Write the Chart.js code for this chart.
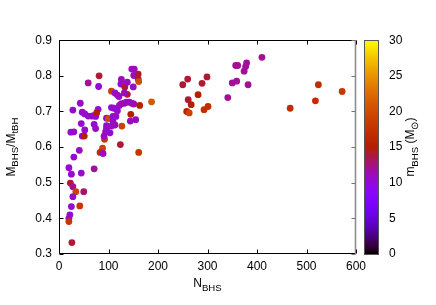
<!DOCTYPE html>
<html>
<head>
<meta charset="utf-8">
<script src="https://cdn.jsdelivr.net/npm/chart.js@4.4.0/dist/chart.umd.min.js"></script>
<style>
  html, body { margin: 0; padding: 0; background: #fff; }
</style>
</head>
<body>
<canvas id="myChart" width="436" height="305"></canvas>
<script>
/* global Chart */

// N_BHS for each run
const nBHS = [
  20, 25, 45, 71, 23, 28, 34, 50, 28, 25,
  42, 22, 20, 20, 26, 41, 30, 28, 24, 30,
  43, 45, 47, 52, 59, 66, 70, 74, 52, 47,
  51, 59, 81, 80, 79, 76, 71, 74, 88, 83,
  89, 92, 91, 94, 96, 96, 96, 100, 103, 106,
  109, 109, 106, 111, 115, 118, 122, 126, 132, 136,
  142, 147, 151, 163, 145, 144, 155, 187, 106, 113,
  118, 121, 125, 126, 133, 138, 138, 132, 150, 147,
  152, 151, 160, 160, 161, 127, 124, 161, 113, 410,
  357, 361, 379, 377, 374, 350, 359, 382, 341, 260,
  299, 250, 289, 281, 261, 267, 258, 263, 293, 301,
  467, 524, 518, 572
];
// M_BHS / M_tBH
const massRatio = [
  0.542, 0.524, 0.527, 0.539, 0.499, 0.489, 0.475, 0.475, 0.461, 0.433,
  0.435, 0.410, 0.400, 0.391, 0.332, 0.591, 0.572, 0.704, 0.642, 0.643,
  0.723, 0.666, 0.698, 0.693, 0.687, 0.687, 0.688, 0.686, 0.648, 0.631,
  0.631, 0.780, 0.800, 0.770, 0.706, 0.696, 0.664, 0.652, 0.597, 0.585,
  0.582, 0.622, 0.631, 0.643, 0.660, 0.652, 0.681, 0.680, 0.640, 0.659,
  0.673, 0.686, 0.711, 0.709, 0.686, 0.702, 0.717, 0.722, 0.723, 0.726,
  0.726, 0.723, 0.721, 0.717, 0.692, 0.673, 0.677, 0.727, 0.757, 0.752,
  0.746, 0.742, 0.777, 0.790, 0.769, 0.782, 0.748, 0.752, 0.769, 0.819,
  0.819, 0.801, 0.805, 0.791, 0.784, 0.659, 0.607, 0.585, 0.662, 0.852,
  0.829, 0.829, 0.836, 0.826, 0.813, 0.780, 0.785, 0.775, 0.739, 0.791,
  0.797, 0.775, 0.779, 0.747, 0.733, 0.719, 0.700, 0.696, 0.705, 0.714,
  0.709, 0.775, 0.730, 0.756
];
// m_BHS (solar masses), used for the colour
const mBHS = [
  10.5, 10.5, 10.5, 12, 14, 12, 19, 13, 10.5, 10.5,
  18, 10.5, 10.5, 18, 14, 11, 10.5, 10.5, 10.5, 10.5,
  10.5, 10.5, 10.5, 10.5, 10.5, 10.5, 10.5, 10.5, 10.5, 10.5,
  15, 12, 14, 10.5, 10.5, 15, 10.5, 11, 19, 17,
  11, 18, 10.5, 11, 10.5, 10.5, 10.5, 20, 10.5, 11,
  11, 10.5, 10.5, 10.5, 10.5, 10.5, 10.5, 11, 12, 11,
  11, 11, 11, 15, 15, 11, 11, 21, 19, 11,
  11, 11, 10.5, 11, 14, 11, 14, 11, 11, 11,
  11, 11, 14, 14, 20, 19, 14, 18, 11, 12,
  12, 12, 12, 12, 12, 12, 12, 12, 12, 14,
  14, 14, 14, 15, 14, 15, 15, 19, 17, 17,
  17, 17, 17, 18
];

const xTicks = [0, 100, 200, 300, 400, 500, 600];
const yTicks = [0.3, 0.4, 0.5, 0.6, 0.7, 0.8, 0.9];
const cbTicks = [0, 5, 10, 15, 20, 25, 30];

const FONT = "'Liberation Sans', Arial, sans-serif";

// gnuplot default palette (rgbformulae 7,5,15)
function palette(m) {
  const g = Math.min(Math.max(m / 30, 0), 1);
  const r = Math.sqrt(g);
  const gr = g * g * g;
  const b = Math.max(0, Math.sin(2 * Math.PI * g));
  return "rgb(" + Math.round(r * 255) + "," + Math.round(gr * 255) + "," + Math.round(b * 255) + ")";
}

// draws text with subscript parts, centred on x, baseline at y
function drawParts(ctx, parts, x, y) {
  let total = 0;
  parts.forEach(function (p) {
    ctx.font = (p.sub ? 9.6 : 12) + "px " + FONT;
    p.w = ctx.measureText(p.t).width;
    total += p.w;
  });
  let cx = x - total / 2;
  parts.forEach(function (p) {
    ctx.font = (p.sub ? 9.6 : 12) + "px " + FONT;
    ctx.fillText(p.t, cx, y + (p.sub ? 3.5 : 0));
    cx += p.w;
  });
}

const decor = {
  id: "decor",
  afterDraw(chart) {
    const ctx = chart.ctx;
    const a = chart.chartArea;
    const xs = chart.scales.x;
    const ys = chart.scales.y;
    const cb = chart.scales.cb;
    ctx.save();

    // colour box
    const cx0 = Math.round(a.right + 8);
    const cw = 15;
    const top = cb.getPixelForValue(30);
    const bot = cb.getPixelForValue(0);
    const grad = ctx.createLinearGradient(0, bot, 0, top);
    for (let v = 0; v <= 30; v += 0.5) {
      grad.addColorStop(v / 30, palette(v));
    }
    ctx.fillStyle = grad;
    ctx.fillRect(cx0, top, cw, bot - top);
    ctx.strokeStyle = "#555";
    ctx.lineWidth = 1;
    ctx.strokeRect(cx0 + 0.5, Math.round(top) + 0.5, cw - 1, Math.round(bot - top));

    // plot border
    const L = Math.round(a.left) + 0.5;
    const R = Math.round(a.right) - 0.5;
    const T = Math.round(a.top) + 0.5;
    const B = Math.round(a.bottom) - 0.5;
    ctx.strokeStyle = "#000";
    ctx.beginPath();
    ctx.moveTo(R, T); ctx.lineTo(L, T); ctx.lineTo(L, B); ctx.lineTo(R, B);
    ctx.stroke();
    ctx.strokeStyle = "#8c8c8c";
    ctx.lineWidth = 1.6;
    ctx.beginPath();
    ctx.moveTo(R, T - 0.5); ctx.lineTo(R, B + 0.5);
    ctx.stroke();

    // inward ticks
    ctx.lineWidth = 1;
    ctx.strokeStyle = "#000";
    ctx.beginPath();
    xTicks.forEach(function (v) {
      const px = Math.round(xs.getPixelForValue(v)) + 0.5;
      ctx.moveTo(px, B); ctx.lineTo(px, B - 4);
      ctx.moveTo(px, T); ctx.lineTo(px, T + 4);
    });
    yTicks.forEach(function (v) {
      const py = Math.round(ys.getPixelForValue(v)) + 0.5;
      ctx.moveTo(L, py); ctx.lineTo(L + 4, py);
    });
    ctx.stroke();
    ctx.strokeStyle = "#777";
    ctx.beginPath();
    yTicks.forEach(function (v) {
      const py = Math.round(ys.getPixelForValue(v)) + 0.5;
      ctx.moveTo(R, py); ctx.lineTo(R - 4, py);
    });
    ctx.stroke();

    // axis titles
    ctx.fillStyle = "#000";
    ctx.textBaseline = "alphabetic";
    ctx.textAlign = "left";
    drawParts(ctx, [{ t: "N" }, { t: "BHS", sub: true }], (a.left + a.right) / 2, 287);

    ctx.save();
    ctx.translate(14.5, (a.top + a.bottom) / 2);
    ctx.rotate(-Math.PI / 2);
    drawParts(ctx, [{ t: "M" }, { t: "BHS", sub: true }, { t: "/M" }, { t: "tBH", sub: true }], 0, 0);
    ctx.restore();

    ctx.save();
    ctx.translate(414, (a.top + a.bottom) / 2);
    ctx.rotate(-Math.PI / 2);
    drawParts(ctx, [{ t: "m" }, { t: "BHS", sub: true }, { t: " (M" }, { t: "\u2299", sub: true }, { t: ")" }], 0, 0);
    ctx.restore();

    ctx.restore();
  },
};

const tickFont = { family: FONT, size: 12 };

const ctx = document.getElementById("myChart");
const myChart = new Chart(ctx, {
  type: "scatter",
  data: {
    datasets: [
      {
        label: "runs",
        data: nBHS.map(function (n, i) {
          return { x: n, y: massRatio[i] };
        }),
        backgroundColor: mBHS.map(palette),
        borderWidth: 0,
        pointRadius: 3.4,
        pointHoverRadius: 3.4,
      },
    ],
  },
  options: {
    responsive: false,
    animation: false,
    devicePixelRatio: 1,
    layout: { padding: { top: 14, left: 0, right: 0, bottom: 0 } },
    plugins: {
      legend: { display: false },
      tooltip: { enabled: false },
    },
    scales: {
      x: {
        type: "linear",
        position: "bottom",
        min: 0,
        max: 600,
        afterBuildTicks: function (s) {
          s.ticks = xTicks.map(function (v) { return { value: v }; });
        },
        afterFit: function (s) { s.height = 51; },
        grid: { display: false, drawTicks: false },
        border: { display: false },
        ticks: { padding: 5, color: "#000", font: tickFont, maxRotation: 0 },
      },
      y: {
        type: "linear",
        position: "left",
        min: 0.3,
        max: 0.9,
        afterBuildTicks: function (s) {
          s.ticks = yTicks.map(function (v) { return { value: v }; });
        },
        afterFit: function (s) { s.width = 59; },
        grid: { display: false, drawTicks: false },
        border: { display: false },
        ticks: {
          padding: 7,
          color: "#000",
          font: tickFont,
          callback: function (v) { return v.toFixed(1); },
        },
      },
      cb: {
        type: "linear",
        axis: "y",
        position: "right",
        min: 0,
        max: 30,
        afterBuildTicks: function (s) {
          s.ticks = cbTicks.map(function (v) { return { value: v }; });
        },
        afterFit: function (s) { s.width = 80; },
        grid: { display: false, drawTicks: false },
        border: { display: false },
        ticks: { padding: 33, color: "#000", font: tickFont },
      },
    },
  },
  plugins: [decor],
});
</script>
</body>
</html>
